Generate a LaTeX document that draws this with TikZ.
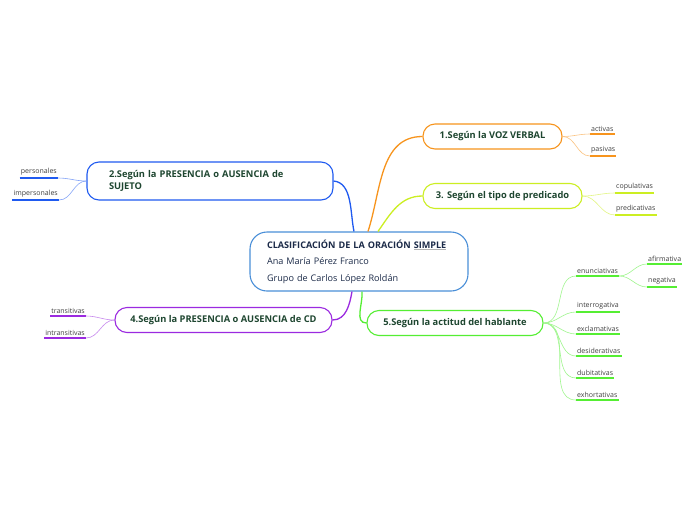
\documentclass[tikz,border=0pt]{standalone}
\usepackage{fontspec}
\setmainfont{Open Sans}
\usetikzlibrary{positioning, arrows.meta}
\usepackage{xcolor}
\definecolor{txtgreen}{HTML}{1E4630}
\definecolor{txtnavy}{HTML}{1B2A48}
\definecolor{cOrange}{HTML}{F7941D}
\definecolor{cYellow}{HTML}{CCEE22}
\definecolor{cBlue}{HTML}{1F5AF0}
\definecolor{cPurple}{HTML}{9B2AE0}
\definecolor{cGreen}{HTML}{55EE33}
\definecolor{cCenter}{HTML}{4A8FD8}
\newcommand{\ulgray}[1]{{\setbox0\hbox{#1}\rlap{\color{black!30}\rule[-2.2pt]{\wd0}{1.4pt}}\box0}}

\begin{document}
\begin{tikzpicture}[
  x=1pt, y=1pt,
  box/.style={draw, fill=white, rounded corners=12pt, line width=1.1pt, inner sep=0pt,
    font=\fontsize{9.3}{12.5}\selectfont\bfseries, text=txtgreen},
  center/.style={box, draw=cCenter, rounded corners=17pt, minimum width=218pt, minimum height=59pt,
    text width=184pt, align=left, font=\fontsize{9.1}{16.5}\selectfont, text=txtnavy},
  branch/.style={box, draw=#1, minimum height=25pt},
  leaf/.style={inner xsep=1pt, inner ysep=2.5pt, font=\fontsize{7}{8}\selectfont, text=black!75},
  link/.style={line width=1.3pt},
  twig/.style={line width=0.6pt, #1!55},
]
\useasboundingbox[fill=white] (0,0) rectangle (696,-520);
% ---- centre ----
\node[center] (c) at (359,-261.5) {{\bfseries CLASIFICACIÓN DE LA ORACIÓN \ulgray{SIMPLE}}\\
  Ana María Pérez Franco\\
  Grupo de Carlos López Roldán};
% ---- the five branches ----
\node[branch=cOrange, minimum width=139pt] (voz) at (492.5,-136.5) {1.Según la VOZ VERBAL};
\node[branch=cBlue, minimum width=246pt, minimum height=38pt, text width=202pt, inner xsep=22pt,
  align=left] (suj) at (210,-181) {2.Según la PRESENCIA o AUSENCIA de\\SUJETO};
\node[branch=cYellow, minimum width=159pt] (pred) at (502.5,-196) {3. Según el tipo de predicado};
\node[branch=cPurple, minimum width=217pt] (cd) at (223.5,-320) {4.Según la PRESENCIA o AUSENCIA de CD};
\node[branch=cGreen, minimum width=176pt] (act) at (455,-323) {5.Según la actitud del hablante};
% ---- leaves ----
\node[leaf, anchor=south west] (activas) at (590,-134) {activas};
\node[leaf, anchor=south west] (pasivas) at (590,-156) {pasivas};
\node[leaf, anchor=south west] (copul) at (615,-193) {copulativas};
\node[leaf, anchor=south west] (predic) at (615,-215) {predicativas};
\node[leaf, anchor=south east] (pers) at (58,-178) {personales};
\node[leaf, anchor=south east] (impers) at (59,-200) {impersonales};
\node[leaf, anchor=south east] (trans) at (86,-316) {transitivas};
\node[leaf, anchor=south east] (intrans) at (86,-338) {intransitivas};
\node[leaf, anchor=south west] (enun) at (576,-276) {enunciativas};
\node[leaf, anchor=south west] (afirm) at (647,-264) {afirmativa};
\node[leaf, anchor=south west] (neg) at (647,-287) {negativa};
\node[leaf, anchor=south west] (inter) at (576,-312) {interrogativa};
\node[leaf, anchor=south west] (excl) at (576,-334) {exclamativas};
\node[leaf, anchor=south west] (desid) at (576,-356) {desiderativas};
\node[leaf, anchor=south west] (dubit) at (576,-378) {dubitativas};
\node[leaf, anchor=south west] (exhor) at (576,-400) {exhortativas};
% ---- underlines ----
\foreach \n/\col in {activas/cOrange, pasivas/cOrange, copul/cYellow, predic/cYellow,
  pers/cBlue, impers/cBlue, trans/cPurple, intrans/cPurple, enun/cGreen, afirm/cGreen,
  neg/cGreen, inter/cGreen, excl/cGreen, desid/cGreen, dubit/cGreen, exhor/cGreen}
  \draw[\col, line width=1.5pt] (\n.south west) -- (\n.south east);
% ---- centre to branches ----
\draw[link, cBlue] ([xshift=-5pt]c.north) to[out=102, in=-5, looseness=0.9] (suj.east);
\draw[link, cOrange] ([xshift=9pt]c.north) to[out=72, in=180] (voz.west);
\draw[link, cYellow] ([xshift=19pt]c.north) to[out=55, in=180] (pred.west);
\draw[link, cPurple] ([xshift=-7pt]c.south) to[out=-100, in=0] (cd.east);
\draw[link, cGreen] ([xshift=3pt]c.south) to[out=-85, in=180] (act.west);
% ---- branches to leaves ----
\foreach \a/\b in {voz/activas, voz/pasivas}
  \draw[twig=cOrange] (\a.east) to[out=0, in=180] (\b.south west);
\foreach \a/\b in {pred/copul, pred/predic}
  \draw[twig=cYellow] (\a.east) to[out=0, in=180] (\b.south west);
\foreach \a/\b in {suj/pers, suj/impers}
  \draw[twig=cBlue] (\a.west) to[out=180, in=0] (\b.south east);
\foreach \a/\b in {cd/trans, cd/intrans}
  \draw[twig=cPurple] (\a.west) to[out=180, in=0] (\b.south east);
\foreach \b in {enun, inter, excl, desid, dubit, exhor}
  \draw[twig=cGreen] (act.east) to[out=0, in=180] (\b.south west);
\foreach \b in {afirm, neg}
  \draw[twig=cGreen] (enun.south east) to[out=0, in=180] (\b.south west);
\end{tikzpicture}
\end{document}
